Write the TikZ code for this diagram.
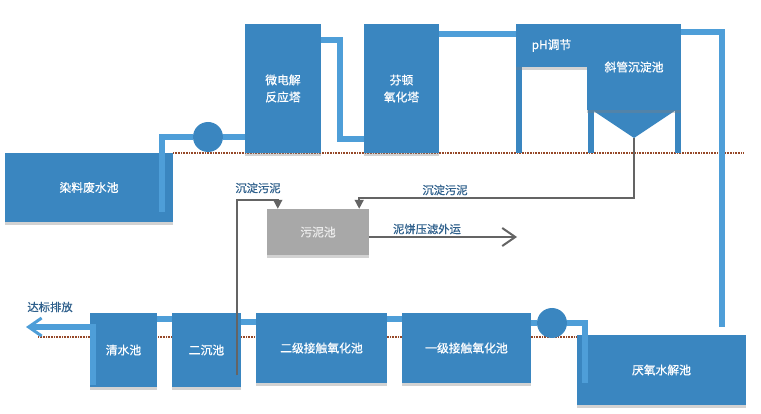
\documentclass[tikz,border=0pt]{standalone}
\usepackage{fontspec}
\setmainfont{Noto Sans CJK SC}[FakeBold=0.6]
\usetikzlibrary{arrows.meta,calc,shadows}
\definecolor{boxblue}{RGB}{58,134,192}
\definecolor{pipeblue}{RGB}{78,158,216}
\definecolor{sludgegray}{RGB}{100,100,100}
\definecolor{graybox}{RGB}{168,168,168}
\definecolor{lblblue}{RGB}{47,96,140}
\definecolor{groundc}{RGB}{150,72,40}
\begin{document}
\begin{tikzpicture}[x=1pt,y=-1pt,
  box/.style={rectangle,fill=boxblue,draw=none,text=white,inner sep=0pt,align=center,
    font=\fontsize{11.8}{17}\selectfont,
    drop shadow={opacity=0.35,shadow xshift=0pt,shadow yshift=-3pt}},
  sbox/.style={box,fill=graybox,text=white!92!black},
  leg/.style={fill=boxblue,draw=none},
  pipe/.style={draw=pipeblue,line width=6pt,line join=miter},
  pump/.style={circle,fill=boxblue,draw=none,minimum size=30pt,inner sep=0pt},
  sludge/.style={draw=sludgegray,line width=1.6pt},
  lbl/.style={text=lblblue,font=\fontsize{11.3}{13}\selectfont,inner sep=0pt},
  groundline/.style={draw=groundc,line width=1.6pt,dash pattern=on 1pt off 0.6pt}]
\useasboundingbox[fill=white] (0,0) rectangle (761,414);

% ground lines
\draw[groundline] (173,153) -- (743,153);
\draw[groundline] (38,337) -- (577,337);

% legs of pH / settling tank
\fill[leg] (516,60) rectangle (522,153);
\fill[leg] (588,105) rectangle (594,153);
\fill[leg] (675,105) rectangle (681,153);

% boxes
\node[box,minimum width=168pt,minimum height=69pt] (ranliao) at (89,187.5) {染料废水池};
\node[box,minimum width=76pt,minimum height=129pt] (wdj) at (283,88.5) {微电解\\反应塔};
\node[box,minimum width=75pt,minimum height=129pt] (fenton) at (401.5,88.5) {芬顿\\氧化塔};
\node[box,minimum width=71pt,minimum height=43pt] (ph) at (551.5,45.5) {pH调节};
\fill[boxblue] (589,108) -- (679,108) -- (634,138) -- cycle;
\node[box,minimum width=94pt,minimum height=86pt] (xieguan) at (634,67) {斜管沉淀池};
\coordinate (tip) at (634,138);

\node[sbox,minimum width=102pt,minimum height=46pt] (wuni) at (318,232) {污泥池};

\node[box,minimum width=67pt,minimum height=74pt] (qingshui) at (123.5,350) {清水池};
\node[box,minimum width=69pt,minimum height=74pt] (erchen) at (206.5,350) {二沉池};
\node[box,minimum width=131pt,minimum height=70pt] (erji) at (321.5,348) {二级接触氧化池};
\node[box,minimum width=129pt,minimum height=70pt] (yiji) at (466.5,348) {一级接触氧化池};
\node[box,minimum width=169pt,minimum height=70pt] (yanyang) at (661.5,370) {厌氧水解池};

% pipes (top)
\coordinate (r1) at (162,212);
\coordinate (c1) at (340,40);
\coordinate (c2) at (340,139);
\coordinate (c3) at (480,34);
\coordinate (c4) at (700,32);
\coordinate (c5) at (722,327);
\node[pump] (pump1) at (208,137) {};
\draw[pipe] (r1) |- (pump1.west);
\draw[pipe] (pump1.east) -- (pump1.east -| wdj.west);
\draw[pipe] (wdj.east |- c1) -| (c2) -- (fenton.west |- c2);
\draw[pipe] (fenton.east |- c3) -- (ph.west |- c3);
\draw[pipe] (xieguan.east |- c4) -| (c5);

% pipes (bottom)
\node[pump] (pump2) at (552,323) {};
\coordinate (c6) at (585,383);
\coordinate (c7) at (395,319);
\coordinate (c8) at (248,322);
\coordinate (c9) at (165,319);
\coordinate (c10) at (93,385);
\coordinate (out) at (26,327);
\draw[pipe] (yiji.east |- pump2) -- (pump2.west);
\draw[pipe] (pump2.east) -| (c6);
\draw[pipe] (yiji.west |- c7) -- (erji.east |- c7);
\draw[pipe] (erji.west |- c8) -- (erchen.east |- c8);
\draw[pipe] (erchen.west |- c9) -- (qingshui.east |- c9);
\draw[pipe,-{Straight Barb[length=13pt,width=18pt,line width=3pt]}] (c10) |- (out);
\node[lbl] (dabiao) at (50,307) {达标排放};

% sludge lines
\coordinate (s1) at (237,375);
\coordinate (s2) at (237,200);
\coordinate (s3) at (600,198);
\coordinate (mud) at (517,237);
\draw[sludge,-{Triangle[length=9pt,width=9pt]}] (s1) -- (s2) -| ($(wuni.north west)+(11,0)$);
\draw[sludge,-{Triangle[length=9pt,width=9pt]}] (tip) |- (s3) -| ($(wuni.north east)+(-10,0)$);
\draw[sludge,-{Straight Barb[length=13pt,width=18pt,line width=2pt]}] (wuni.east |- mud) -- (mud);
\node[lbl] (lb1) at (258,188) {沉淀污泥};
\node[lbl] (lb2) at (445,190) {沉淀污泥};
\node[lbl] (lb3) at (427,229) {泥饼压滤外运};
\end{tikzpicture}
\end{document}
